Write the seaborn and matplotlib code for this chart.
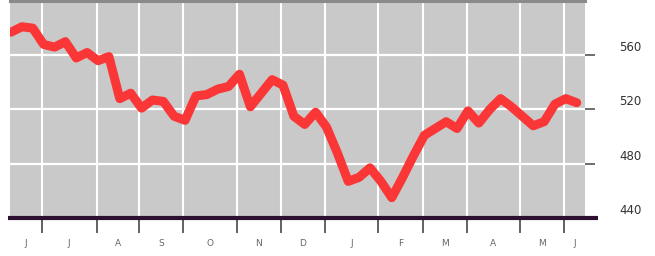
import numpy as np
import pandas as pd
import matplotlib
matplotlib.use("Agg")
import matplotlib.pyplot as plt
import matplotlib.transforms as mtransforms
import seaborn as sns

# ---- data (weekly index values) ----
weeks = list(range(53))
values = [577, 581, 580, 568, 566, 570, 558, 562, 556, 559,
          528, 532, 521, 527, 526, 515, 512, 530, 531, 535,
          537, 546, 522, 532, 542, 538, 515, 509, 518, 507,
          488, 467, 470, 477, 467, 455, 470, 486, 501, 506,
          511, 506, 519, 510, 520, 528, 522, 515, 508, 511,
          524, 528, 525]
month_bounds = [2.82, 7.87, 11.76, 15.81, 20.77, 24.82, 28.86,
                33.73, 37.87, 41.91, 46.78, 50.83]
month_labels = ["J", "J", "A", "S", "O", "N", "D", "J", "F", "M", "A", "M", "J"]
y_ticks = [440, 480, 520, 560]

df = pd.DataFrame({"week": weeks, "value": values})

sns.set_style("white")
plt.rcParams["font.family"] = ["DejaVu Sans"]

fig = plt.figure(figsize=(6.55, 2.56), dpi=100)
ax = fig.add_axes([10 / 655, 1 - 218 / 256, 575 / 655, 217 / 256])
ax.set_facecolor("#c9c9c9")

xmin, xmax = -0.09, 52.76
ax.set_xlim(xmin, xmax)
ax.set_ylim(440, 600)

# grid
for b in month_bounds:
    ax.axvline(b, color="white", lw=1.5, zorder=1)
for yv in y_ticks[1:]:
    ax.axhline(yv, color="white", lw=1.6, zorder=1)

sns.lineplot(data=df, x="week", y="value", ax=ax, color="#fa3636",
             lw=6.5, zorder=3, solid_joinstyle="round", solid_capstyle="round")

# spines
for s in ["left", "right", "bottom"]:
    ax.spines[s].set_visible(False)
ax.spines["top"].set_color("#8a8a8a")
ax.spines["top"].set_linewidth(2.2)
ax.plot([-0.003, 1.022], [0, 0], transform=ax.transAxes, color="#2d1030",
        lw=3.0, clip_on=False, zorder=5, solid_capstyle="butt")

# x ticks: boundaries as major ticks, labels at month midpoints (minor)
ax.set_xticks(month_bounds)
ax.set_xticklabels([""] * len(month_bounds))
ax.tick_params(axis="x", which="major", direction="out", length=11,
               width=1.3, color="#555555", bottom=True)
edges = [xmin] + month_bounds + [xmax]
mids = [(edges[i] + edges[i + 1]) / 2 for i in range(len(edges) - 1)]
ax.set_xticks(mids, minor=True)
ax.set_xticklabels(month_labels, minor=True)
ax.tick_params(axis="x", which="minor", length=0, pad=15, labelsize=6.5,
               labelcolor="#666666")
ax.set_xlabel("")

# y ticks on right
ax.yaxis.tick_right()
ax.set_yticks(y_ticks)
ax.set_yticklabels([str(v) for v in y_ticks])
ax.tick_params(axis="y", which="major", direction="out", length=7.5,
               width=1.2, color="#555555", pad=17, labelsize=8.5,
               labelcolor="#333333", left=False, right=True)
ax.set_ylabel("")
offset = mtransforms.ScaledTranslation(0, 9 / 100, fig.dpi_scale_trans)
for lab in ax.get_yticklabels():
    lab.set_transform(lab.get_transform() + offset)

fig.savefig("out.png", dpi=100, facecolor="white")
